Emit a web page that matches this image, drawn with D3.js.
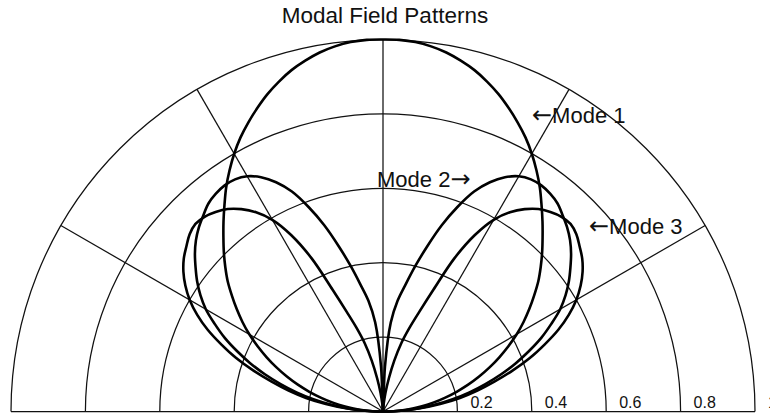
<!DOCTYPE html>
<html>
<head>
<meta charset="utf-8">
<script src="https://cdn.jsdelivr.net/npm/d3@7"></script>
<style>
  html, body { margin: 0; padding: 0; background: #fff; }
  svg { display: block; }
  text { font-family: "Liberation Sans", Arial, "DejaVu Sans", sans-serif; fill: #111; }
  tspan.arrow { font-family: "DejaVu Sans", sans-serif; font-size: 24px; }
</style>
</head>
<body>
<svg id="chart" width="770" height="416"></svg>
<script>
// Angles off broadside in degrees (0 = straight up, 90 = horizon).
// The patterns are symmetric, so one half is listed and mirrored.
const angleDeg = [0,2.5,5,7.5,10,12.5,15,17.5,20,22.5,25,27.5,30,32.5,35,37.5,40,42.5,45,
                  47.5,50,52.5,55,57.5,60,62.5,65,67.5,70,72.5,75,77.5,80,82.5,85,87.5,90];

// Normalised field magnitude of each mode at those angles
const mode1 = [1.00,1.00,0.997,0.99,0.98,0.966,0.95,0.93,0.908,0.883,0.857,0.83,0.80,0.768,0.735,0.70,0.667,0.635,0.605,
               0.575,0.545,0.512,0.48,0.448,0.415,0.38,0.345,0.31,0.275,0.24,0.205,0.17,0.137,0.103,0.07,0.035,0];
const mode2 = [0,0.12,0.24,0.30,0.345,0.40,0.46,0.525,0.585,0.64,0.68,0.71,0.73,0.74,0.742,0.738,0.73,0.715,0.70,
               0.682,0.66,0.635,0.61,0.582,0.55,0.51,0.47,0.425,0.38,0.333,0.285,0.238,0.19,0.142,0.095,0.048,0];
const mode3 = [0,0.005,0.02,0.05,0.09,0.14,0.19,0.235,0.285,0.355,0.455,0.535,0.595,0.635,0.664,0.686,0.70,0.71,0.713,
               0.705,0.69,0.675,0.655,0.63,0.60,0.563,0.52,0.47,0.42,0.365,0.31,0.26,0.21,0.155,0.10,0.05,0];

const ringTicks = [0.2, 0.4, 0.6, 0.8, 1.0];
const ringLabels = ["0.2", "0.4", "0.6", "0.8", "1"];
const spokeDeg = [0, 30, 60, 90, 120, 150, 180];   // measured from the right horizon

const labels = [
  { pre: "\u2190", text: "Mode 1", post: "", x: 532, y: 123 },
  { pre: "", text: "Mode 2", post: "\u2192", x: 377, y: 187 },
  { pre: "\u2190", text: "Mode 3", post: "", x: 589, y: 234 }
];

const svg = d3.select("#chart");
const cx = 383, cy = 411.5, R = 372;
const r = d3.scaleLinear().domain([0, 1]).range([0, R]);
const g = svg.append("g").attr("transform", `translate(${cx},${cy})`);

// Title
svg.append("text")
  .attr("x", 385).attr("y", 23)
  .attr("text-anchor", "middle")
  .style("font-size", "22.5px")
  .text("Modal Field Patterns");

// Range rings (upper half only)
const ringArc = d3.arc()
  .innerRadius(d => r(d)).outerRadius(d => r(d))
  .startAngle(-Math.PI / 2).endAngle(Math.PI / 2);
g.selectAll("path.ring").data(ringTicks).join("path")
  .attr("class", "ring")
  .attr("d", ringArc)
  .attr("fill", "none")
  .attr("stroke", "#111")
  .attr("stroke-width", 1.25);

// Angular spokes
g.selectAll("line.spoke").data(spokeDeg).join("line")
  .attr("class", "spoke")
  .attr("x1", 0).attr("y1", 0)
  .attr("x2", d => r(1) * Math.cos(d * Math.PI / 180))
  .attr("y2", d => -r(1) * Math.sin(d * Math.PI / 180))
  .attr("stroke", "#111")
  .attr("stroke-width", 1.25);

// Ring labels along the baseline, just outside each ring
g.selectAll("text.tick").data(ringTicks).join("text")
  .attr("class", "tick")
  .attr("x", d => r(d) + 13)
  .attr("y", -3.5)
  .attr("text-anchor", "start")
  .style("font-size", "16px")
  .text((d, i) => ringLabels[i]);

// Mode patterns: mirror the listed half onto the left side
const radial = d3.lineRadial()
  .angle(d => d[0] * Math.PI / 180)
  .radius(d => r(d[1]))
  .curve(d3.curveCatmullRom.alpha(0.5));

[mode1, mode2, mode3].forEach(vals => {
  const right = angleDeg.map((a, i) => [a, vals[i]]);
  const left = right.slice(1).map(([a, v]) => [-a, v]).reverse();
  g.append("path")
    .datum(left.concat(right))
    .attr("d", radial)
    .attr("fill", "none")
    .attr("stroke", "#000")
    .attr("stroke-width", 2.6)
    .attr("stroke-linejoin", "round");
});

// Mode annotations
const notes = svg.selectAll("text.note").data(labels).join("text")
  .attr("class", "note")
  .attr("x", d => d.x).attr("y", d => d.y)
  .style("font-size", "22px");
notes.append("tspan").attr("class", "arrow").text(d => d.pre);
notes.append("tspan").text(d => d.text);
notes.append("tspan").attr("class", "arrow").text(d => d.post);
</script>
</body>
</html>
